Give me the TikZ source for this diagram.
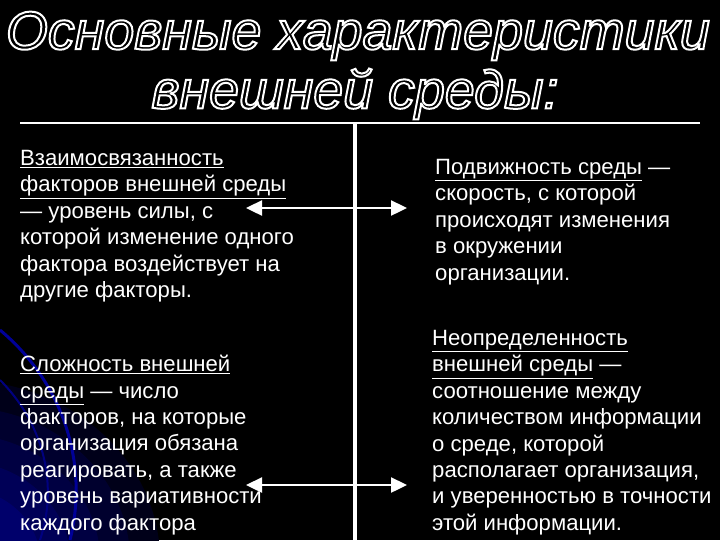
\documentclass[tikz,border=0pt]{standalone}
\usepackage{fontspec}
\setmainfont{Liberation Sans}
\usetikzlibrary{arrows.meta}
\newcommand{\outl}[1]{\special{pdf:literal direct 1 Tr 2 w 1 1 1 RG 0 0 0 rg}#1\special{pdf:literal direct 0 Tr}}
\begin{document}
\begin{tikzpicture}[x=1bp,y=-1bp,
  body/.style={anchor=north west,align=left,text=white,font=\fontsize{22.2}{26.5}\selectfont,inner sep=0pt},
  ttl/.style={font=\fontsize{54}{58}\selectfont\itshape,inner sep=0pt},
  arr/.style={white,line width=2.4pt,{Triangle[length=16bp,width=15bp]}-{Triangle[length=16bp,width=15bp]}}]
\fill[black] (0,0) rectangle (720,540);
\begin{scope}
\clip (0,0) rectangle (720,540);
\foreach \r/\c in {200/10,170/18,140/26,110/34,80/42}
  \fill[blue!\c!black] (-40,560) ellipse ({\r} and {\r*0.9});
\draw[blue!60!black,line width=3pt] (0,330) .. controls (60,380) and (90,460) .. (70,540);
\draw[blue!50!black,line width=2pt] (0,380) .. controls (40,420) and (60,480) .. (40,540);
\end{scope}
\node[ttl] (t1) at (358,36) {\outl{Основные характеристики}};
\node[ttl] (t2) at (355,94) {\outl{внешней среды:}};
\coordinate (hl) at (20,123);
\coordinate (hr) at (700,123);
\coordinate (vt) at (355,123);
\coordinate (vb) at (355,540);
\draw[white,line width=1.5pt] (hl) -- (hr);
\draw[white,line width=4pt] (vt) -- (vb);
\node[body] (a) at (20,150) {\underline{Взаимосвязанность}\\\underline{факторов внешней среды}\\— уровень силы, с\\которой изменение одного\\фактора воздействует на\\другие факторы.};
\node[body] (b) at (435,159) {\underline{Подвижность среды} —\\скорость, с которой\\происходят изменения\\в окружении\\организации.};
\node[body] (c) at (20,355) {\underline{Сложность внешней}\\\underline{среды} — число\\факторов, на которые\\организация обязана\\реагировать, а также\\уровень вариативности\\каждого фактора};
\node[body] (d) at (432,330) {\underline{Неопределенность}\\\underline{внешней среды} —\\соотношение между\\количеством информации\\о среде, которой\\располагает организация,\\и уверенностью в точности\\этой информации.};
\coordinate (a1) at (246,208); \coordinate (a2) at (407,208);
\coordinate (b1) at (246,485); \coordinate (b2) at (407,485);
\draw[arr] (a1) -- (a2);
\draw[arr] (b1) -- (b2);
\end{tikzpicture}
\end{document}
